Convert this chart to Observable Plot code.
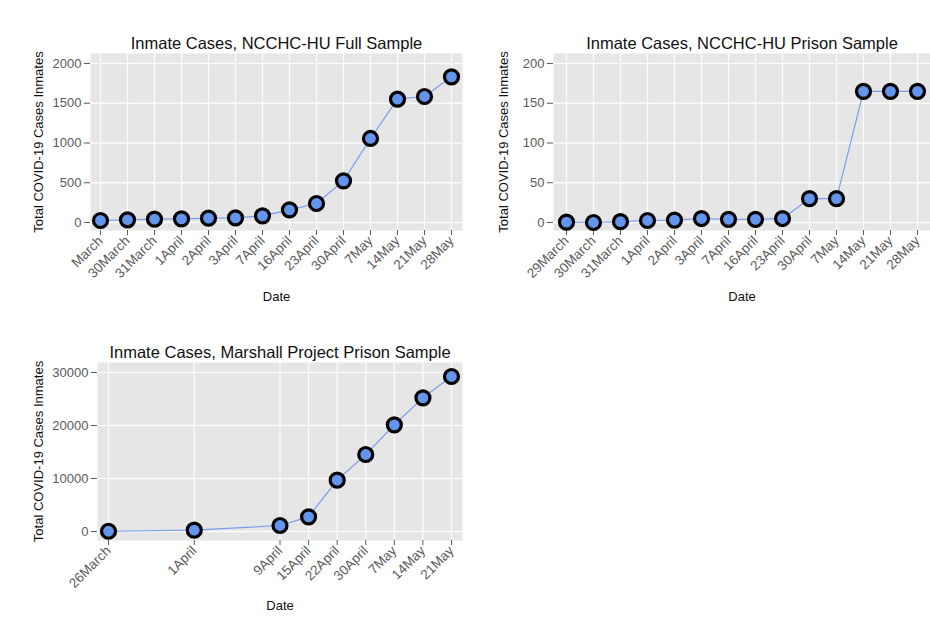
<!DOCTYPE html>
<html>
<head>
<meta charset="utf-8">
<script src="https://cdn.jsdelivr.net/npm/d3@7"></script>
<script src="https://cdn.jsdelivr.net/npm/@observablehq/plot@0.6"></script>
<style>
  html, body { margin: 0; padding: 0; background: #ffffff; }
  #root { position: relative; width: 930px; height: 629px; overflow: hidden; font-family: "Liberation Sans", Arial, sans-serif; }
  .panel { position: absolute; }
</style>
</head>
<body>
<div id="root">
  <div class="panel" id="p1" style="left:0px;top:0px;"></div>
  <div class="panel" id="p2" style="left:470px;top:0px;"></div>
  <div class="panel" id="p3" style="left:0px;top:310px;"></div>
</div>
<script>
// ---- Data ----
const fullDates = ["March","30March","31March","1April","2April","3April","7April","16April","23April","30April","7May","14May","21May","28May"];
const fullCases = [25, 34, 42, 45, 55, 58, 84, 159, 239, 524, 1057, 1551, 1585, 1832];
const fullTicks = [0, 500, 1000, 1500, 2000];

const prisonDates = ["29March","30March","31March","1April","2April","3April","7April","16April","23April","30April","7May","14May","21May","28May"];
const prisonCases = [0.4, 0, 1, 2.5, 3, 5, 4, 4, 5, 30, 30, 165, 165, 165];
const prisonTicks = [0, 50, 100, 150, 200];

const marshallDates = ["26March","1April","9April","15April","22April","30April","7May","14May","21May"];
const marshallSlot = [0, 3, 6, 7, 8, 9, 10, 11, 12];
const marshallCases = [50, 250, 1130, 2770, 9690, 14530, 20130, 25220, 29250];
const marshallTicks = [0, 10000, 20000, 30000];

const titles = [
  "Inmate Cases, NCCHC-HU Full Sample",
  "Inmate Cases, NCCHC-HU Prison Sample",
  "Inmate Cases, Marshall Project Prison Sample"
];
const yLabel = "Total COVID-19 Cases Inmates";
const xLabel = "Date";

// ---- Styles ----
const BG = "#e6e6e6";
const LINE = "#7b9cf0";
const FILL = "#6495ed";
const TICKC = "#5a5a5a";

function panel({dates, cases, xs, yTicks, title, width, height, mt, mr, mb, ml, insX, insTop, insBottom, yLabDx, dateDy, xLinear}) {
  const data = dates.map((d, i) => ({date: d, x: xs ? xs[i] : d, v: cases[i]}));
  const yMax = yTicks[yTicks.length - 1];
  const xOpts = xLinear
    ? {type: "linear", domain: [d3.min(xs), d3.max(xs)], insetLeft: insX[0], insetRight: insX[1]}
    : {type: "point", domain: dates, padding: 0, insetLeft: insX[0], insetRight: insX[1]};
  const axisXOpts = {
    tickRotate: -45, label: null, fontSize: 13.5, tickSize: 5, tickPadding: 3,
    color: TICKC, stroke: TICKC
  };
  if (xLinear) {
    axisXOpts.ticks = xs;
    axisXOpts.tickFormat = (d) => dates[xs.indexOf(d)];
  }
  return Plot.plot({
    width, height,
    marginTop: mt, marginRight: mr, marginBottom: mb, marginLeft: ml,
    style: {fontFamily: "'Liberation Sans', Arial, sans-serif", background: "transparent", overflow: "visible"},
    x: xOpts,
    y: {domain: [0, yMax], insetTop: insTop, insetBottom: insBottom},
    marks: [
      Plot.frame({fill: BG, stroke: null}),
      xLinear
        ? Plot.gridX({ticks: xs, stroke: "#ffffff", strokeOpacity: 0.85, strokeWidth: 1.3})
        : Plot.gridX({stroke: "#ffffff", strokeOpacity: 0.85, strokeWidth: 1.3}),
      Plot.gridY(yTicks, {stroke: "#ffffff", strokeOpacity: 0.85, strokeWidth: 1.3}),
      Plot.axisX(axisXOpts),
      Plot.axisY(yTicks, {label: null, tickFormat: d3.format("d"), fontSize: 13, tickSize: 6, tickPadding: 3, color: TICKC, stroke: TICKC}),
      Plot.line(data, {x: "x", y: "v", stroke: LINE, strokeWidth: 1.2}),
      Plot.dot(data, {x: "x", y: "v", r: 7, fill: FILL, stroke: "#000000", strokeWidth: 3.2}),
      Plot.text([title], {frameAnchor: "top", dy: -16, fontSize: 16.5, fill: "#111111"}),
      Plot.text([xLabel], {frameAnchor: "bottom", dy: dateDy, fontSize: 13, fill: "#111111"}),
      Plot.text([yLabel], {frameAnchor: "left", textAnchor: "middle", dx: yLabDx, rotate: -90, fontSize: 13, fill: "#111111"})
    ]
  });
}

document.getElementById("p1").appendChild(panel({
  dates: fullDates, cases: fullCases, yTicks: fullTicks, title: titles[0],
  width: 470, height: 310, mt: 53, mr: 8, mb: 80, ml: 90,
  insX: [10, 11], insTop: 10, insBottom: 8, yLabDx: -52, dateDy: 70
}));

document.getElementById("p2").appendChild(panel({
  dates: prisonDates, cases: prisonCases, yTicks: prisonTicks, title: titles[1],
  width: 460, height: 310, mt: 53, mr: 0, mb: 80, ml: 83,
  insX: [9, 10], insTop: 10, insBottom: 8, yLabDx: -50, dateDy: 70
}));

document.getElementById("p3").appendChild(panel({
  dates: marshallDates, cases: marshallCases, xs: marshallSlot, yTicks: marshallTicks, title: titles[2],
  width: 470, height: 319, mt: 52, mr: 8, mb: 89, ml: 97,
  insX: [11, 11], insTop: 10, insBottom: 9, yLabDx: -59, dateDy: 69, xLinear: true
}));
</script>
</body>
</html>
